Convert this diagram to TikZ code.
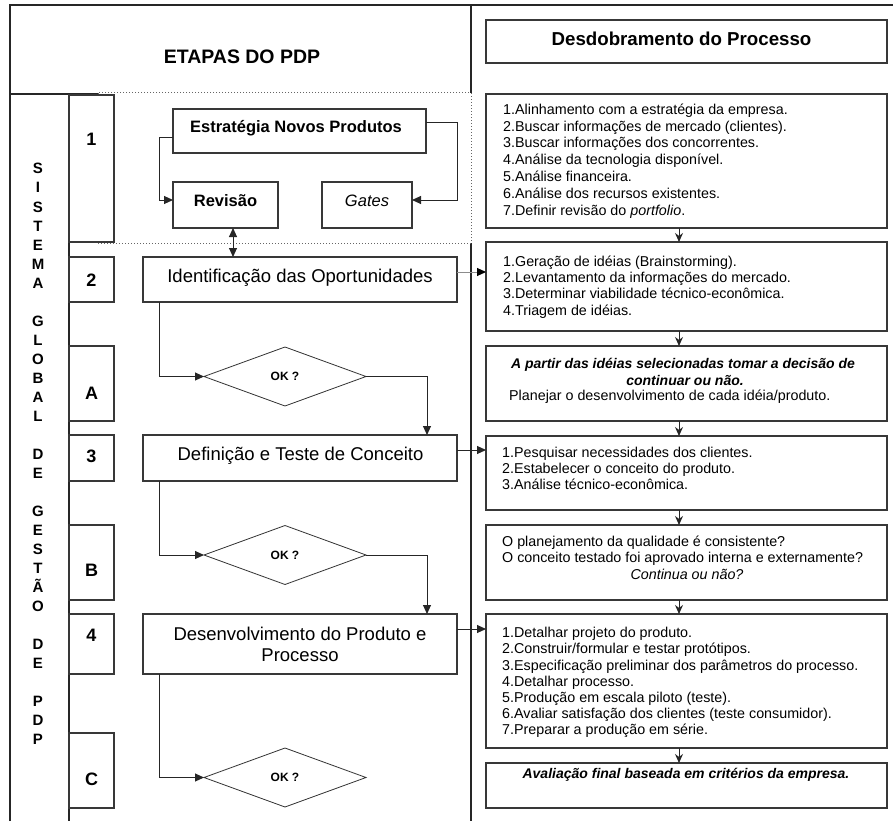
\documentclass[tikz,border=0pt]{standalone}
\usepackage{fontspec}
\setmainfont{Liberation Sans}
\usetikzlibrary{shapes.geometric,arrows.meta}

\begin{document}
\begin{tikzpicture}[x=1pt,y=-1pt,
  frame/.style={line width=1.1pt, draw=black!85},
  dotframe/.style={line width=1pt, draw=black!60, dotted},
  box/.style={rectangle, draw=black!78, line width=1.3pt, fill=white,
              inner sep=0pt, outer sep=0pt},
  okdiamond/.style={diamond, draw=black!80, line width=0.8pt, fill=white,
              inner sep=0pt, outer sep=0pt, minimum width=162pt, minimum height=59pt,
              font=\bfseries\fontsize{12}{14}\selectfont},
  conn/.style={line width=1pt, draw=black!85, -{Triangle[length=9pt,width=8pt]}},
  dconn/.style={line width=1pt, draw=black!85,
              {Triangle[length=9pt,width=8pt]}-{Triangle[length=9pt,width=8pt]}},
  gconn/.style={line width=1pt, draw=black!45, -{Triangle[length=9pt,width=8pt,color=black]}},
  vconn/.style={line width=1pt, draw=black!85, -{Stealth[length=9pt,width=8pt]}},
  numlbl/.style={anchor=base, inner sep=0pt, font=\bfseries\fontsize{18}{20}\selectfont},
  sisletter/.style={anchor=base, inner sep=0pt, font=\bfseries\fontsize{15}{17}\selectfont},
  stagetxt/.style={anchor=base, inner sep=0pt, font=\fontsize{18.5}{22}\selectfont},
  smalltxt/.style={anchor=base, inner sep=0pt, font=\bfseries\fontsize{16.5}{19}\selectfont},
  dtext/.style={anchor=base west, inner sep=0pt, font=\fontsize{14.3}{16}\selectfont},
  dctext/.style={anchor=base, inner sep=0pt, font=\fontsize{14.3}{16}\selectfont},
  dbitext/.style={anchor=base, inner sep=0pt, font=\bfseries\itshape\fontsize{14}{16}\selectfont}
]
\useasboundingbox (0,0) rectangle (893,821);

% outer frame and column rules
\draw[frame] (10,821) -- (10,5) -- (893,5);
\draw[frame] (471,5) -- (471,93);
\draw[frame] (471,243) -- (471,821);
\draw[frame] (10,94) -- (98,94);
\draw[frame] (69,94) -- (69,821);

% dotted area around the strategy stage
\draw[dotframe] (98,93) rectangle (471,243);

% vertical title of the left column
\foreach \i/\ch in {0/S,1/I,2/S,3/T,4/E,5/M,6/A,8/G,9/L,10/O,11/B,12/A,13/L,
                    15/D,16/E,18/G,19/E,20/S,21/T,22/Ã,23/O,25/D,26/E,28/P,29/D,30/P}
  \node[sisletter] (sis\i) at (38,{174+19*\i}) {\ch};

% headings
\node[anchor=base, inner sep=0pt, font=\bfseries\fontsize{19.5}{22}\selectfont]
  (etapas) at (242,63.3) {ETAPAS DO PDP};
\node[box, minimum width=401pt, minimum height=43pt] (head) at (686.5,41.5) {};
\node[anchor=base, inner sep=0pt, font=\bfseries\fontsize{18.7}{22}\selectfont]
  (headtxt) at (681.5,45.7) {Desdobramento do Processo};

% stage number boxes
\node[box, minimum width=45pt, minimum height=147pt] (b1) at (91.5,168.5) {};
\node[box, minimum width=45pt, minimum height=45pt]  (b2) at (91.5,279.5) {};
\node[box, minimum width=45pt, minimum height=75pt]  (bA) at (91.5,383.5) {};
\node[box, minimum width=45pt, minimum height=46pt]  (b3) at (91.5,458) {};
\node[box, minimum width=45pt, minimum height=75pt]  (bB) at (91.5,562.5) {};
\node[box, minimum width=45pt, minimum height=60pt]  (b4) at (91.5,644) {};
\node[box, minimum width=45pt, minimum height=75pt]  (bC) at (91.5,770.5) {};
\node[numlbl] (n1) at (91.5,145.7) {1};
\node[numlbl] (n2) at (91.5,286) {2};
\node[numlbl] (nA) at (91.5,399.3) {A};
\node[numlbl] (n3) at (91.5,462.7) {3};
\node[numlbl] (nB) at (91.5,576.7) {B};
\node[numlbl] (n4) at (91.5,641.7) {4};
\node[numlbl] (nC) at (91.5,785) {C};

% stage 1: strategy
\node[box, minimum width=253pt, minimum height=44pt] (estr) at (299.5,131) {};
\node[smalltxt] (estrtxt) at (296,132.7) {Estratégia Novos Produtos};
\node[box, minimum width=105pt, minimum height=46pt] (rev) at (225.5,205) {};
\node[smalltxt] (revtxt) at (225.5,206.7) {Revisão};
\node[box, minimum width=90pt, minimum height=46pt] (gates) at (367,205) {};
\node[smalltxt, font=\itshape\fontsize{16.5}{19}\selectfont] (gatestxt) at (367,206.7) {Gates};

% stages 2, 3 and 4
\node[box, minimum width=314pt, minimum height=45pt] (ident) at (300,279.5) {};
\node[stagetxt] (identtxt) at (300,282.7) {Identificação das Oportunidades};
\node[box, minimum width=314pt, minimum height=46pt] (def) at (300,458) {};
\node[stagetxt] (deftxt) at (300.5,460.7) {Definição e Teste de Conceito};
\node[box, minimum width=314pt, minimum height=60pt] (devel) at (300,644) {};
\node[stagetxt] (develtxta) at (300,640) {Desenvolvimento do Produto e};
\node[stagetxt] (develtxtb) at (300,661.7) {Processo};

% decision points
\node[okdiamond] (dA) at (285,376.5) {OK ?};
\node[okdiamond] (dB) at (285,555) {OK ?};
\node[okdiamond] (dC) at (285,777.5) {OK ?};

% detail boxes of the right column
\node[box, minimum width=401pt, minimum height=134pt] (det1) at (686.5,161) {};
\node[box, minimum width=401pt, minimum height=89pt]  (det2) at (686.5,286.5) {};
\node[box, minimum width=401pt, minimum height=75pt]  (detA) at (686.5,383.5) {};
\node[box, minimum width=401pt, minimum height=74pt]  (det3) at (686.5,473) {};
\node[box, minimum width=401pt, minimum height=75pt]  (detB) at (686.5,562.5) {};
\node[box, minimum width=401pt, minimum height=134pt] (det4) at (686.5,681) {};
\node[box, minimum width=401pt, minimum height=45pt]  (detC) at (686.5,785.5) {};

\foreach \t [count=\i from 0] in {
    1.Alinhamento com a estratégia da empresa.,
    2.Buscar informações de mercado (clientes).,
    3.Buscar informações dos concorrentes.,
    4.Análise da tecnologia disponível.,
    5.Análise financeira.,
    6.Análise dos recursos existentes.,
    7.Definir revisão do \textit{portfolio}.}
  \node[dtext] (l1x\i) at (503,{114.3+16.8*\i}) {\t};

\foreach \t [count=\i from 0] in {
    1.Geração de idéias (Brainstorming).,
    2.Levantamento da informações do mercado.,
    3.Determinar viabilidade técnico-econômica.,
    4.Triagem de idéias.}
  \node[dtext] (l2x\i) at (503,{266+16.4*\i}) {\t};

\node[dbitext] (lAx0) at (683,368.3) {A partir das idéias selecionadas tomar a decisão de};
\node[dbitext] (lAx1) at (685,385) {continuar ou não.};
\node[dtext] (lAx2) at (509,400.7) {Planejar o desenvolvimento de cada idéia/produto.};

\foreach \t [count=\i from 0] in {
    1.Pesquisar necessidades dos clientes.,
    2.Estabelecer o conceito do produto.,
    3.Análise técnico-econômica.}
  \node[dtext] (l3x\i) at (502,{457.7+15.7*\i}) {\t};

\node[dtext] (lBx0) at (502,546.7) {O planejamento da qualidade é consistente?};
\node[dtext] (lBx1) at (502,562.7) {O conceito testado foi aprovado interna e externamente?};
\node[dctext, font=\itshape\fontsize{14.3}{16}\selectfont] (lBx2) at (687,579.3) {Continua ou não?};

\foreach \t [count=\i from 0] in {
    1.Detalhar projeto do produto.,
    2.Construir/formular e testar protótipos.,
    3.Especificação preliminar dos parâmetros do processo.,
    4.Detalhar processo.,
    5.Produção em escala piloto (teste).,
    6.Avaliar satisfação dos clientes (teste consumidor).,
    7.Preparar a produção em série.}
  \node[dtext] (l4x\i) at (502,{637.7+16.2*\i}) {\t};

\node[dbitext] (lCx0) at (686,778.3) {Avaliação final baseada em critérios da empresa.};

% connectors inside stage 1
\draw[conn] ([yshift=-7pt]estr.west) -- ++(-14,0) |- ([yshift=5pt]rev.west);
\draw[conn] ([yshift=8pt]estr.east) -- ++(31,0) |- ([yshift=5pt]gates.east);
\coordinate (revfoot) at ([xshift=7.5pt]rev.south);
\draw[dconn] (revfoot) -- (revfoot |- ident.north);

% stage flow through the decision points
\draw[conn] ([xshift=16pt]ident.south west) |- (dA.west);
\draw[conn] (dA.east) -| ([xshift=-30pt]def.north east);
\draw[conn] ([xshift=16pt]def.south west) |- (dB.west);
\draw[conn] (dB.east) -| ([xshift=-30pt]devel.north east);
\draw[conn] ([xshift=16pt]devel.south west) |- (dC.west);

% links from the stages to their details
\coordinate (identout) at ([yshift=7.5pt]ident.east);
\draw[gconn] (identout) -- (identout -| det2.west);
\coordinate (defout) at ([yshift=8pt]def.east);
\draw[conn] (defout) -- (defout -| det3.west);
\coordinate (develout) at ([yshift=15pt]devel.east);
\draw[conn] (develout) -- (develout -| det4.west);

% sequence of the detail boxes
\foreach \u/\v in {det1/det2, det2/detA, detA/det3, det3/detB, detB/det4, det4/detC}
  \draw[vconn] ([xshift=-7.5pt]\u.south) -- ([xshift=-7.5pt]\v.north);

\end{tikzpicture}
\end{document}
